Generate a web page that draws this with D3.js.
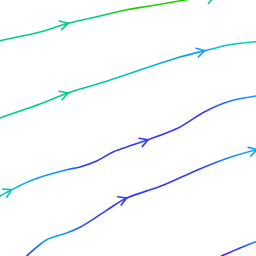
<!DOCTYPE html>
<html><head><meta charset="utf-8">
<script src="https://cdn.jsdelivr.net/npm/d3@7"></script>
<style>html,body{margin:0;padding:0;background:#fff;}svg{display:block;}</style>
</head><body>
<svg id="c" width="256" height="256"></svg>
<script>
// Streamlines: x, y (data units, y up), speed (colour value)
const line0X = [208.3, 212.5];
const line0Y = [252.5, 257];
const line0S = [4, 4];

const line1X = [-10, 0, 40, 68, 100, 128, 150, 185, 200];
const line1Y = [213, 215.3, 224, 232.7, 240, 246.5, 250, 256, 258.5];
const line1S = [4, 4, 4, 4, 4.1, 5, 5, 5, 5];

const line2X = [-10, 0, 40, 68, 104, 128, 180, 204.7, 212, 228, 256, 266];
const line2Y = [134, 138, 152, 163, 174, 182, 199, 205.3, 207, 211, 214.3, 215];
const line2S = [4, 4, 4, 4, 3.8, 3, 2, 2, 3, 3, 3.2, 3.2];

const line3X = [-10, 0, 11.7, 33, 66.7, 80, 96.7, 113, 128, 148, 178, 204.7, 228, 256, 266];
const line3Y = [55, 60, 66.3, 76.3, 86.3, 89, 95, 104, 109.5, 116.3, 128, 144.3, 154.3, 160, 161];
const line3S = [3.6, 3.5, 3.1, 2, 1.8, 1, 1, 1, 1, 1, 1, 1, 1.6, 2, 2];

const line4X = [20, 26.7, 46.7, 66.7, 80, 100, 115, 126.7, 161, 198, 228, 257];
const line4Y = [-6, 0, 16.3, 23, 28.7, 41.3, 51.3, 58, 70, 86.3, 98, 106.5];
const line4S = [1, 1, 2, 2, 1.3, 1, 1, 1, 1, 1, 1.8, 2];

const line5X = [215, 221.7, 240, 256, 266];
const line5Y = [-3, 0, 8, 14.3, 18];
const line5S = [0, 0.3, 1, 1.8, 1.8];

// index of the point where an arrow head sits
const line0Arrows = [];
const line1Arrows = [3];
const line2Arrows = [3, 7];
const line3Arrows = [2, 9];
const line4Arrows = [7, 11];
const line5Arrows = [];

const speedStops = [0, 1, 2, 3, 4, 5];
const speedColors = ["#7a00ff", "#3338ff", "#0a9eff", "#00c6c8", "#00cc8c", "#22cc00"];

const W = 256, H = 256;
const x = d3.scaleLinear().domain([0, 256]).range([0, W]);
const y = d3.scaleLinear().domain([0, 256]).range([H, 0]);
const color = d3.scaleLinear().domain(speedStops).range(speedColors).interpolate(d3.interpolateRgb);

const lines = [
  [line0X, line0Y, line0S, line0Arrows],
  [line1X, line1Y, line1S, line1Arrows],
  [line2X, line2Y, line2S, line2Arrows],
  [line3X, line3Y, line3S, line3Arrows],
  [line4X, line4Y, line4S, line4Arrows],
  [line5X, line5Y, line5S, line5Arrows]
];

const svg = d3.select("#c");
const defs = svg.append("defs");
const sw = 1.6;
const gen = d3.line().x(d => x(d.x)).y(d => y(d.y)).curve(d3.curveCatmullRom.alpha(0.5));

lines.forEach(([xs, ys, ss, arrows], li) => {
  const pts = xs.map((v, i) => ({x: v, y: ys[i], s: ss[i]}));
  const x0 = x(xs[0]), x1 = x(xs[xs.length - 1]);
  const grad = defs.append("linearGradient")
    .attr("id", "g" + li)
    .attr("gradientUnits", "userSpaceOnUse")
    .attr("x1", x0).attr("x2", x1).attr("y1", 0).attr("y2", 0);
  pts.forEach(p => {
    grad.append("stop")
      .attr("offset", (x(p.x) - x0) / (x1 - x0))
      .attr("stop-color", color(p.s));
  });
  svg.append("path")
    .attr("d", gen(pts))
    .attr("fill", "none")
    .attr("stroke", `url(#g${li})`)
    .attr("stroke-width", sw)
    .attr("stroke-linecap", "round");

  arrows.forEach(i => {
    const p = pts[i];
    const a = pts[Math.max(0, i - 1)], b = pts[Math.min(pts.length - 1, i + 1)];
    const dx = x(b.x) - x(a.x), dy = y(b.y) - y(a.y);
    const ang = Math.atan2(dy, dx);
    const tx = x(p.x), ty = y(p.y);
    const L = 9, spread = Math.PI / 6;
    const back = ang + Math.PI;
    const p1 = [tx + L * Math.cos(back - spread), ty + L * Math.sin(back - spread)];
    const p2 = [tx + L * Math.cos(back + spread), ty + L * Math.sin(back + spread)];
    svg.append("path")
      .attr("d", `M${p1[0]},${p1[1]}L${tx},${ty}L${p2[0]},${p2[1]}`)
      .attr("fill", "none")
      .attr("stroke", color(p.s))
      .attr("stroke-width", sw)
      .attr("stroke-linecap", "round")
      .attr("stroke-linejoin", "miter");
  });
});
</script>
</body></html>
